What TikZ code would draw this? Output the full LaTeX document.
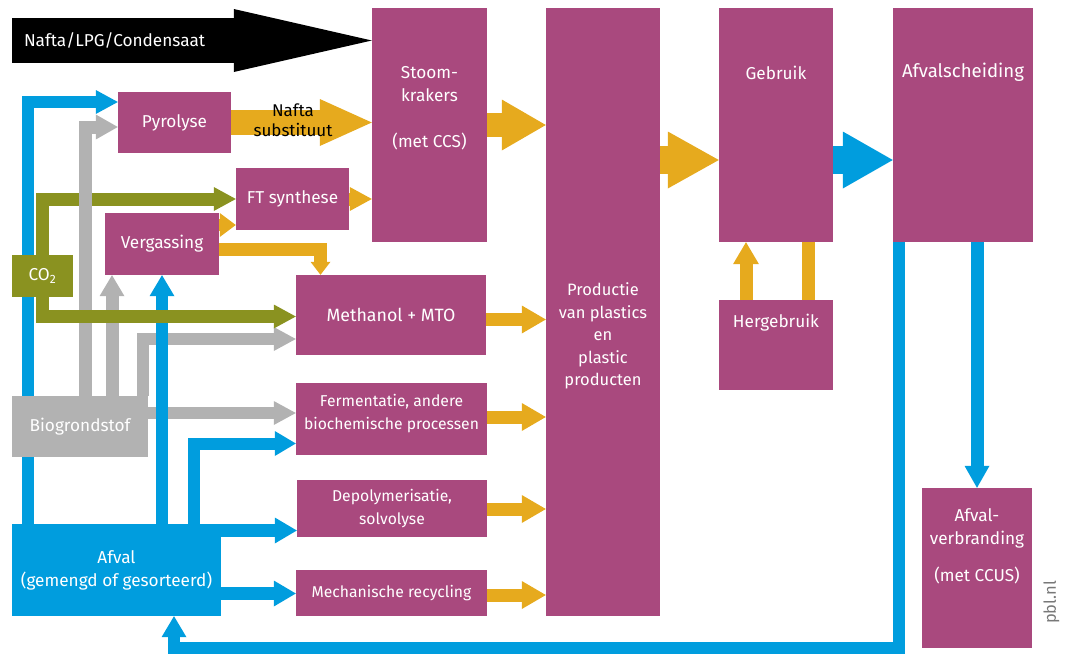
\documentclass[tikz,border=0pt]{standalone}
\usepackage{fontspec}
\setmainfont{Fira Sans}
\usetikzlibrary{arrows.meta,backgrounds}
\definecolor{pblpurple}{RGB}{169,73,126}
\definecolor{pblyellow}{RGB}{230,170,30}
\definecolor{pblblue}{RGB}{0,157,222}
\definecolor{pblolive}{RGB}{138,146,32}
\definecolor{pblgray}{RGB}{178,178,178}
\definecolor{pbltext}{RGB}{120,120,120}
\newcommand{\bigtxt}{\fontsize{17.2}{23}\selectfont}
\newcommand{\smalltxt}{\fontsize{15.7}{23}\selectfont}

\begin{document}
\begin{tikzpicture}[x=1pt,y=-1pt,
  box/.style={rectangle, fill=pblpurple, inner sep=0pt},
  boxtext/.style={text=white, align=center, inner sep=0pt, font=\bigtxt},
  feed/.style={rectangle, inner sep=0pt, text=white, align=center, font=\bigtxt},
  flow/.style n args={3}{line width=#1, line join=miter, -{Triangle[length=#2,width=#3,line width=0pt]}},
  bar/.style={line width=#1, line join=miter}]
\useasboundingbox (0,0) rectangle (1066,654);

% grondstoffen
\node[feed, fill=black, text width=196pt, align=left, inner xsep=12pt, minimum height=45pt] at (122,40.5) (nafta) {Nafta/LPG/Condensaat};
\node[feed, fill=pblolive, minimum width=61pt, minimum height=42pt] at (42.5,276) (co2) {CO\textsubscript{2}};
\node[feed, fill=pblgray, minimum width=136pt, minimum height=61pt] at (80,426.5) (bio) {Biogrondstof};
\node[feed, fill=pblblue, minimum width=209pt, minimum height=92pt] at (116.5,570) (afval) {Afval\\(gemengd of gesorteerd)};

% processen
\node[box, boxtext, minimum width=113pt, minimum height=61pt] at (174.5,122.5) (pyro) {Pyrolyse};
\node[box, boxtext, minimum width=113pt, minimum height=62pt] at (292.5,199) (ft) {FT synthese};
\node[box, boxtext, minimum width=114pt, minimum height=62pt] at (162,244) (verg) {Vergassing};
\node[box, boxtext, font=\fontsize{17.8}{23}\selectfont, minimum width=190pt, minimum height=80pt] at (391,315) (meth) {Methanol + MTO};
\node[box, minimum width=191pt, minimum height=72pt] at (391.5,419) (ferm) {};
\node[boxtext, font=\smalltxt] at (391.5,413.5) (fermtxt) {Fermentatie, andere\\biochemische processen};
\node[box, boxtext, font=\smalltxt, minimum width=190pt, minimum height=57pt] at (392,508.5) (depol) {Depolymerisatie,\\solvolyse};
\node[box, boxtext, font=\smalltxt, minimum width=191pt, minimum height=46pt] at (391.5,593) (mech) {Mechanische recycling};

% keten
\node[box, minimum width=115pt, minimum height=234pt] at (429.5,125) (stoom) {};
\node[boxtext] at (429.5,108) (stoomtxt) {Stoom-\\krakers\\[23pt](met CCS)};
\node[box, minimum width=114pt, minimum height=608pt] at (603,312) (prod) {};
\node[boxtext, font=\fontsize{16.5}{22.5}\selectfont] at (603,336) (prodtxt) {Productie\\van plastics\\en\\plastic\\producten};
\node[box, minimum width=114pt, minimum height=234pt] at (776,125) (gebr) {};
\node[boxtext] at (776,72.5) (gebrtxt) {Gebruik};
\node[box, minimum width=114pt, minimum height=90pt] at (776,345) (herg) {};
\node[boxtext] at (776,322.5) (hergtxt) {Hergebruik};
\node[box, minimum width=140pt, minimum height=234pt] at (963,125) (scheid) {};
\node[boxtext, font=\fontsize{18.6}{23}\selectfont] at (963,72.5) (scheidtxt) {Afvalscheiding};
\node[box, minimum width=110pt, minimum height=160pt] at (977,568) (verbr) {};
\node[boxtext] at (977,546.5) (verbrtxt) {Afval-\\verbranding\\[14pt](met CCUS)};

\begin{scope}[on background layer]
% CO2 naar FT
\draw[flow={13pt}{22pt}{24pt}, color=pblolive] (co2.north) |- (ft.west);
% biogrondstof
\draw[flow={13pt}{22pt}{25pt}, color=pblgray] (85,0 |- bio.north) |- (pyro.west |- 0,127);
\draw[flow={13pt}{21pt}{25pt}, color=pblgray] (112,0 |- bio.north) -- (112,0 |- verg.south);
\draw[flow={12pt}{22pt}{24pt}, color=pblgray] (143,0 |- bio.north) |- (meth.west |- 0,339);
\draw[flow={12pt}{22pt}{24pt}, color=pblgray] (bio.east |- 0,413) -- (ferm.west |- 0,413);
% afval
\draw[flow={12pt}{22pt}{24pt}, color=pblblue] (28,0 |- afval.north) |- (pyro.west |- 0,102);
\draw[flow={12pt}{21pt}{25pt}, color=pblblue] (afval.north -| verg.south) -- (verg.south);
\draw[flow={12pt}{21pt}{25pt}, color=pblblue] (194,0 |- afval.north) |- (ferm.west |- 0,443.5);
\draw[flow={13pt}{22pt}{26pt}, color=pblblue] (afval.east |- 0,530.5) -- (depol.west |- 0,530.5);
\draw[flow={13pt}{22pt}{26pt}, color=pblblue] (afval.east |- 0,593.5) -- (mech.west |- 0,593.5);
\draw[flow={12pt}{21pt}{25pt}, color=pblblue] (scheid.south -| 898.5,0) |- (174,648) -- (174,0 |- afval.south);
\draw[flow={13pt}{22pt}{25pt}, color=pblblue] (scheid.south -| verbr.north) -- (verbr.north);
\draw[flow={28pt}{50pt}{57pt}, color=pblblue] (gebr.east |- 0,160) -- (scheid.west |- 0,160);
% CO2 naar methanol
\draw[flow={13pt}{22pt}{24pt}, color=pblolive] (co2.south) |- (meth.west |- 0,316.5);
% tussenproducten
\draw[flow={25pt}{52pt}{47pt}, color=pblyellow] (pyro.east) -- (stoom.west |- pyro.east);
\draw[flow={13pt}{22pt}{24pt}, color=pblyellow] (ft.east) -- (stoom.west |- ft.east);
\draw[flow={12pt}{16pt}{24pt}, color=pblyellow] (verg.east |- 0,225) -- (ft.west |- 0,225);
\draw[flow={13pt}{13pt}{20pt}, color=pblyellow] (verg.east |- 0,249.5) -| (320.5,0 |- meth.north);
\draw[flow={24pt}{44pt}{51pt}, color=pblyellow] (stoom.east) -- (prod.west |- stoom.east);
\draw[flow={13pt}{24pt}{28pt}, color=pblyellow] (meth.east |- 0,319.5) -- (prod.west |- 0,319.5);
\draw[flow={13pt}{24pt}{28pt}, color=pblyellow] (ferm.east |- 0,417) -- (prod.west |- 0,417);
\draw[flow={13pt}{24pt}{28pt}, color=pblyellow] (depol.east |- 0,509) -- (prod.west |- 0,509);
\draw[flow={13pt}{24pt}{28pt}, color=pblyellow] (mech.east |- 0,595) -- (prod.west |- 0,595);
\draw[flow={28pt}{51pt}{57pt}, color=pblyellow] (prod.east |- 0,160) -- (gebr.west |- 0,160);
\draw[flow={13pt}{22pt}{26pt}, color=pblyellow] (herg.north -| 746,0) -- (gebr.south -| 746,0);
\draw[bar=13pt, color=pblyellow] (gebr.south -| 808.5,0) -- (herg.north -| 808.5,0);
% fossiel
\draw[flow={45pt}{138pt}{63pt}, color=black] (nafta.east) -- (stoom.west |- nafta.east);
\end{scope}

\node[text=black, align=center, font=\fontsize{17}{20}\selectfont] at (293,120) (subst) {Nafta\\substituut};
\node[rotate=90, text=pbltext, font=\fontsize{16.5}{20}\selectfont] at (1051.5,602.5) (pbl) {pbl.nl};
\end{tikzpicture}
\end{document}
